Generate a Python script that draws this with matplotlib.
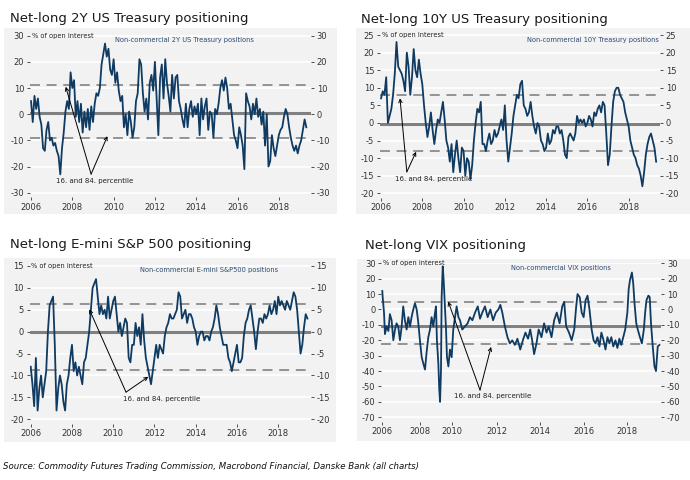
import numpy as np
import matplotlib
matplotlib.use('Agg')
import matplotlib.pyplot as plt
from matplotlib.patches import Rectangle

plt.rcParams['font.family'] = 'DejaVu Sans'
plt.rcParams['axes.unicode_minus'] = False

# ---- data (monthly, % of open interest) ----
ust2y = [
    5, -3, 7, 2, 6, -1, -4, -13, -14, -6, -3, -10,      # 2006
    -9, -12, -11, -14, -16, -23, -13, -7, 1, 5, 2, 16,  # 2007
    10, 13, -1, 5, -3, 4, -7, 1, -5, 2, -6, 3,          # 2008
    -3, 4, 8, 7, 10, 19, 23, 27, 22, 25, 17, 15,        # 2009
    21, 12, 16, 9, 5, 7, -5, 0, -8, 1, -3, -9,          # 2010
    -5, 5, 8, 21, 19, 8, 1, 6, -2, 12, 15, 9,           # 2011
    20, 6, -8, 14, 19, 6, 21, 12, 7, 1, 15, 6,          # 2012
    14, 15, 5, 2, -2, -5, 4, -5, 2, 5, -1, 3,           # 2013
    0, 4, -8, 6, -2, 3, 6, -6, 1, 0, -9, 2,             # 2014
    0, 4, 10, 13, 9, 14, 10, 2, 4, -2, -8, -10,         # 2015
    -13, -5, -8, -12, -21, 8, 5, 3, -2, 4, 0, 6,        # 2016
    -1, 2, -4, 1, -12, 0, -20, -18, -8, -13, -16, -12,  # 2017
    -8, -6, -5, -1, 2, 0, -5, -9, -12, -14, -12, -15,   # 2018
    -12, -10, -6, -2, -5,                               # 2019
]
ust10y = [
    7, 9, 8, 13, 0, 2, 4, 8, 14, 23, 16, 15,
    14, 12, 9, 20, 16, 8, 13, 21, 15, 13, 18, 14,
    11, 5, 0, -4, -1, 3, -2, -6, -2, 1, 0, 3,
    6, 1, -5, -7, -11, -6, -14, -9, -5, -10, -14, -7,
    -8, -15, -10, -11, -16, -12, -5, 0, 4, 3, 6, -6,
    -6, -8, -5, -3, -6, -5, -2, -4, -3, -1, 1, -2,
    5, -5, -11, -7, -3, 2, 5, 8, 7, 11, 12, 5,
    4, 2, 3, 6, 2, -1, -3, 0, -1, -5, -6, -8,
    -7, -3, -6, -5, -2, -3, -1, -1, -3, -2, -5, -9,
    -10, -4, -3, -4, -5, -3, 2, 0, 1, 0, 1, -1,
    0, 2, 1, -1, 3, 2, 4, 5, 3, 6, 5, -3,
    -12, -9, -1, 6, 9, 10, 10, 8, 7, 6, 3, 1,
    -1, -5, -7, -9, -10, -12, -13, -15, -18, -14, -9, -6,
    -4, -3, -5, -7, -11,
]
spx = [
    -8, -12, -17, -6, -18, -13, -10, -15, -12, -9, 0, 6,
    7, 8, -3, -18, -13, -10, -12, -16, -18, -12, -10, -6,
    -3, -9, -7, -10, -8, -10, -12, -7, -6, -3, 0, 5,
    10, 11, 12, 8, 4, 6, 4, 5, 3, 8, 3, 5,
    7, 8, 4, 0, 2, -1, 1, 3, 2, -6, -7, -3,
    -3, 2, -1, 1, -3, 4, -2, -6, -8, -10, -12, -9,
    -6, -3, -6, -3, -4, -5, -1, 1, 2, 4, 3, 3,
    4, 5, 9, 8, 3, 4, 5, 2, 4, 4, 3, 1,
    0, -3, -1, 0, 0, -2, -1, -1, -2, 0, 1, 3,
    6, 4, 1, -1, -3, -3, -3, -6, -7, -9, -7, -5,
    -3, -7, -7, -6, -1, 2, 3, 5, 6, 3, 0, -4,
    0, 3, 3, 2, 4, 3, 4, 6, 4, 5, 7, 4,
    8, 6, 7, 6, 5, 7, 6, 5, 7, 9, 8, 5,
    0, -5, -3, 1, 4, 3,
]
vix_t = [
    2006.0, 2006.02, 2006.09, 2006.14, 2006.23, 2006.32, 2006.4, 2006.49, 2006.58, 2006.67,
    2006.75, 2006.84, 2006.93, 2007.02, 2007.1, 2007.19, 2007.28, 2007.37, 2007.46, 2007.54,
    2007.63, 2007.72, 2007.81, 2007.89, 2007.98, 2008.09, 2008.19, 2008.3, 2008.4, 2008.51,
    2008.62, 2008.72, 2008.83, 2008.94, 2009.0, 2009.06, 2009.15, 2009.21, 2009.26, 2009.32,
    2009.36, 2009.43, 2009.49, 2009.57, 2009.64, 2009.7, 2009.79, 2009.89, 2010.0, 2010.07,
    2010.15, 2010.22, 2010.3, 2010.37, 2010.47, 2010.59, 2010.71, 2010.81, 2010.92, 2011.04,
    2011.16, 2011.26, 2011.36, 2011.48, 2011.6, 2011.72, 2011.84, 2011.96, 2012.08, 2012.17,
    2012.26, 2012.38, 2012.5, 2012.61, 2012.72, 2012.84, 2012.96, 2013.09, 2013.21, 2013.33,
    2013.45, 2013.55, 2013.64, 2013.73, 2013.84, 2013.94, 2014.07, 2014.19, 2014.3, 2014.4,
    2014.53, 2014.65, 2014.77, 2014.9, 2015.02, 2015.11, 2015.2, 2015.33, 2015.45, 2015.57,
    2015.66, 2015.72, 2015.82, 2015.91, 2016.0, 2016.09, 2016.18, 2016.27, 2016.37, 2016.46,
    2016.55, 2016.64, 2016.73, 2016.82, 2016.92, 2017.01, 2017.1, 2017.19, 2017.28, 2017.37,
    2017.47, 2017.56, 2017.65, 2017.74, 2017.83, 2017.92, 2018.02, 2018.08, 2018.14, 2018.23,
    2018.29, 2018.35, 2018.43, 2018.5, 2018.6, 2018.69, 2018.78, 2018.84, 2018.9, 2018.99,
    2019.05, 2019.11, 2019.19, 2019.27, 2019.34, 2019.42, 2019.5,
]
vix = [
    12, 8, -2, -16, -11, -14, -3, -7, -20, -13,
    -9, -11, -20, -11, 2, -7, -13, -5, -11, -5,
    0, 4, 0, -8, -20, -31, -35, -39, -28, -18,
    -13, -5, -11, -2, 2, -20, -35, -52, -60, -39,
    8, 28, 19, 2, -13, -31, -37, -26, -31, -13,
    -5, 2, -5, -7, -13, -11, -9, -5, -7, -2,
    2, -6, -2, 2, -5, 0, -7, -2, 0, 3,
    -2, -11, -18, -22, -20, -23, -19, -26, -20, -15,
    -19, -13, -20, -29, -22, -13, -18, -9, -15, -11,
    -18, -7, -2, -9, 2, 5, -11, -15, -20, -13,
    2, 10, 8, -2, -5, 6, 9, 0, -13, -20,
    -22, -18, -24, -15, -20, -26, -18, -22, -18, -24,
    -20, -25, -19, -23, -18, -13, -2, 13, 19, 24,
    17, 4, -9, -13, -18, -22, -13, -2, 6, 9,
    8, -9, -24, -37, -40, -24, -23,
]

# 16th / 84th percentiles and the solid reference line
pct_2y, ref_2y = (-9.2, 11.2), 0.5
pct_10y, ref_10y = (-7.9, 8.0), -0.4
pct_spx, ref_spx = (-8.8, 6.3), 0.0
pct_vix, ref_vix = (-22.2, 5.1), -10.9

years = [2006, 2008, 2010, 2012, 2014, 2016, 2018]

BLUE = '#0f3b62'
BG = '#f2f2f2'
GREY = '#808080'

W, H = 690, 480
fig = plt.figure(figsize=(6.9, 4.8), dpi=100)
fig.patch.set_facecolor('white')


def px_box(x0, y0, x1, y1):
    return [x0 / W, 1 - y1 / H, (x1 - x0) / W, (y1 - y0) / H]


# grey panel backgrounds
for x0, y0, x1, y1 in [(4, 28, 337, 214), (356, 28, 690, 214),
                       (4, 258, 336, 442), (357, 259, 690, 441)]:
    fig.patches.append(Rectangle((x0 / W, 1 - y1 / H), (x1 - x0) / W, (y1 - y0) / H,
                                 transform=fig.transFigure, facecolor=BG,
                                 edgecolor='none', zorder=-5))


def panel(box, t, vals, ylim, yticks, xlim, pct, ref, label, label_x, ha,
          ann_text, ann_start, ann_targets, vix_scale=False):
    ax = fig.add_axes(box)
    ax.set_zorder(2)
    ax.set_facecolor(BG)
    if vix_scale:
        # the VIX chart's date axis is not evenly spaced in the original
        ky = [2005, 2006, 2008, 2010, 2012, 2014, 2016, 2018, 2021]
        kp = [-19, 0, 38, 69.4, 114.4, 157.7, 201.4, 244.7, 309.8]
        ax.set_xscale('function', functions=(lambda x: np.interp(x, ky, kp),
                                             lambda p: np.interp(p, kp, ky)))
    for s in ax.spines.values():
        s.set_visible(False)
    ax.set_xlim(*xlim)
    ax.set_ylim(*ylim)
    ax.set_yticks(yticks)
    ax.set_xticks(years)
    ax.set_xticklabels([str(y) for y in years])
    ax.grid(axis='y', color='white', lw=1.2, zorder=1)
    ax.tick_params(axis='y', left=True, right=True, labelleft=True, labelright=True,
                   length=2.2, width=0.6, pad=2, labelsize=6, colors='#333333')
    ax.tick_params(axis='x', length=2.2, width=0.6, pad=1.5, labelsize=6, colors='#333333')
    ax.axhline(ref, color=GREY, lw=2.2, zorder=2)
    for p in pct:
        ax.axhline(p, color='#8c8c8c', lw=1.3, ls=(0, (5.5, 3.7)), zorder=2)
    ax.plot(t, vals, color=BLUE, lw=1.3, zorder=3)
    ax.annotate('% of open interest', xy=(0.006, yticks[-1]),
                xycoords=('axes fraction', 'data'), fontsize=4.8,
                color='#222222', va='center', ha='left')
    ax.text(label_x, 0.985, label, transform=ax.transAxes, fontsize=4.8,
            color='#2a4a70', va='top', ha=ha)
    ax.text(*ann_start[2:], ann_text, fontsize=5, color='#222222',
            ha='center', va='center', zorder=5)
    for tgt in ann_targets:
        ax.annotate('', xy=tgt, xytext=ann_start[:2],
                    arrowprops=dict(arrowstyle='->', color='black', lw=0.7,
                                    shrinkA=0, shrinkB=0, mutation_scale=6),
                    zorder=5)
    return ax


t_2y = 2006 + np.arange(len(ust2y)) / 12
t_10y = 2006 + np.arange(len(ust10y)) / 12
t_spx = 2006 + np.arange(len(spx)) / 12

panel(px_box(30, 34.9, 310.8, 197.4), t_2y, ust2y, (-31.8, 30.3),
      np.arange(-30, 31, 10), (2005.95, 2019.55), pct_2y, ref_2y,
      'Non-commercial 2Y US Treasury positions', 0.55, 'center',
      '16. and 84. percentile', (2008.91, -22.9, 2009.07, -25.6),
      [(2007.68, 10.5), (2009.7, -8.4)])

panel(px_box(380, 34.3, 660, 197.9), t_10y, ust10y, (-21.3, 25.2),
      np.arange(-20, 26, 5), (2005.95, 2019.52), pct_10y, ref_10y,
      'Non-commercial 10Y Treasury positions', 0.995, 'right',
      '16. and 84. percentile', (2007.25, -13.9, 2008.57, -15.8),
      [(2006.92, 7.0), (2007.7, -8.2)])

panel(px_box(29.7, 265.1, 310.6, 424.1), t_spx, spx, (-21.1, 15.2),
      np.arange(-20, 16, 5), (2005.95, 2019.57), pct_spx, ref_spx,
      'Non-commercial E-mini S&P500 positions', 0.64, 'center',
      '16. and 84. percentile', (2010.62, -13.8, 2012.35, -15.3),
      [(2008.84, 5.1), (2011.7, -10.3)])

panel(px_box(381.35, 262.5, 661.2, 421.9), vix_t, vix, (-73, 30.5),
      np.arange(-70, 31, 10), (2005.95, 2019.58), pct_vix, ref_vix,
      'Non-commercial VIX positions', 0.64, 'center',
      '16. and 84. percentile', (2011.26, -52.3, 2011.81, -56.5),
      [(2009.78, 5.1), (2011.75, -24.3)], vix_scale=True)

# panel titles
for x, y, s in [(10, 22, 'Net-long 2Y US Treasury positioning'),
                (361, 22.5, 'Net-long 10Y US Treasury positioning'),
                (10, 248, 'Net-long E-mini S&P 500 positioning'),
                (365, 249.5, 'Net-long VIX positioning')]:
    fig.text(x / W, 1 - y / H, s, fontsize=9.5, color='#1a1a1a', va='baseline', ha='left')

fig.text(3 / W, 1 - 469 / H,
         'Source: Commodity Futures Trading Commission, Macrobond Financial, Danske Bank (all charts)',
         fontsize=6.2, style='italic', color='#111111', va='baseline', ha='left')

fig.savefig('out.png', dpi=100, facecolor='white')
